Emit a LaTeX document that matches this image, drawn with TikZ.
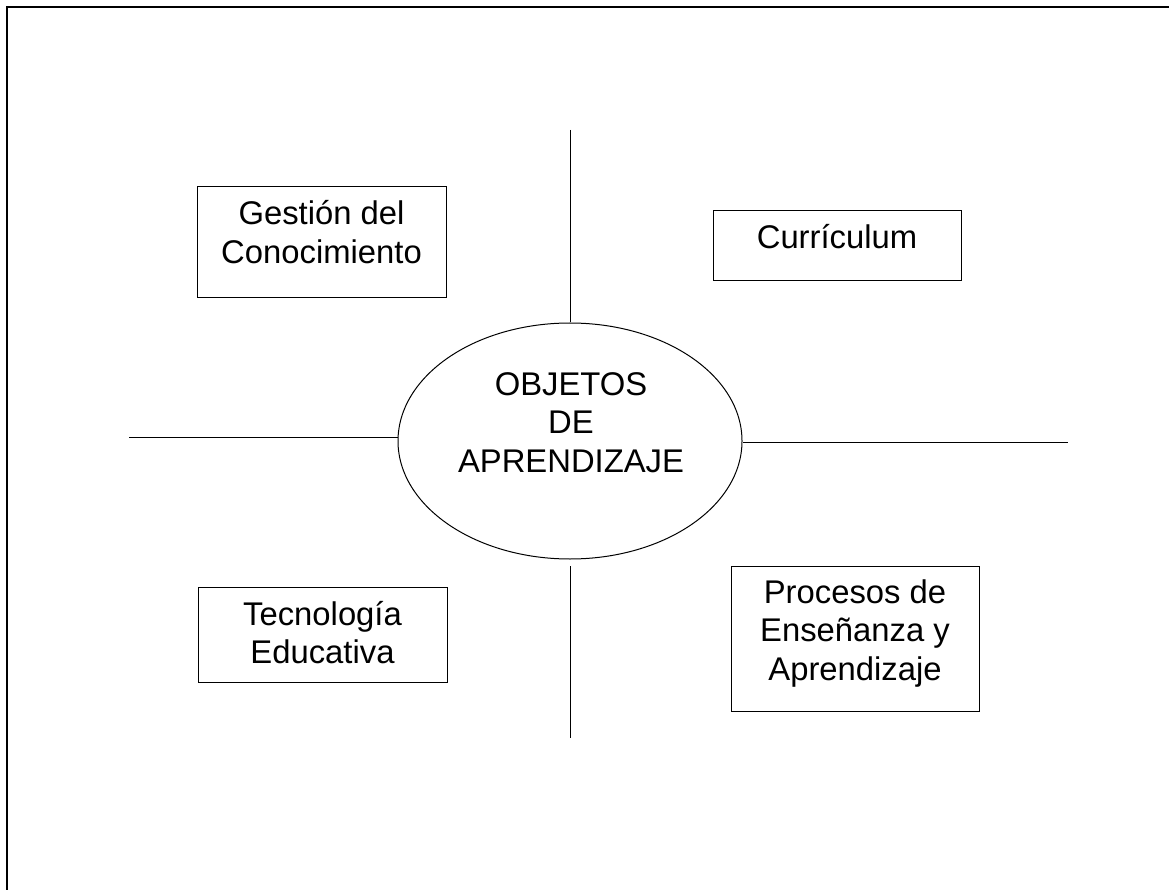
\documentclass[tikz,border=0pt]{standalone}
\usepackage{fontspec}
\setmainfont{Liberation Sans}
\usetikzlibrary{shapes.geometric}
\tikzset{
  boxshape/.style={draw=black, line width=1pt, rectangle, inner sep=0pt},
  ellshape/.style={draw=black, line width=1pt, ellipse, inner sep=0pt},
  txt/.style={anchor=base, inner sep=0pt, font=\fontsize{32.8}{38.5}\selectfont},
  spoke/.style={draw=black, line width=1pt},
  frameline/.style={draw=black, line width=1.7pt}
}
\newcommand{\mlines}[1]{\begin{tabular}[t]{@{}c@{}}#1\end{tabular}}
\begin{document}
\begin{tikzpicture}[x=1pt,y=-1pt]
\useasboundingbox (0,0) rectangle (1169,890);
\draw[frameline] (6.7,895) -- (6.7,6.7) -- (1175,6.7);

% central ellipse
\node[ellshape, minimum width=344pt, minimum height=236pt] (ell) at (570,441) {};
\node[txt] (ellT) at (571,395) {\mlines{OBJETOS\\DE\\APRENDIZAJE}};

% boxes
\node[boxshape, minimum width=249pt, minimum height=111pt] (ges) at (321.5,242.5) {};
\node[txt] (gesT) at (321.5,225) {\mlines{Gestión del\\Conocimiento}};

\node[boxshape, minimum width=248pt, minimum height=70pt] (cur) at (837,246) {};
\node[txt] (curT) at (837,249) {Currículum};

\node[boxshape, minimum width=249pt, minimum height=95pt] (tec) at (322.5,634.5) {};
\node[txt] (tecT) at (322.5,625) {\mlines{Tecnología\\Educativa}};

\node[boxshape, minimum width=248pt, minimum height=145pt] (pro) at (855,638.5) {};
\node[txt] (proT) at (855,603) {\mlines{Procesos de\\Enseñanza y\\Aprendizaje}};

% spokes
\coordinate (tp) at (570,130);
\coordinate (bt1) at (570,566);
\coordinate (bt2) at (570,738);
\coordinate (lf) at (129,437);
\coordinate (rt) at (1068,442);
\draw[spoke] (tp) -- (ell.north);
\draw[spoke] (bt1) -- (bt2);
\draw[spoke] (lf) -- (ell.west |- lf);
\draw[spoke] (ell.east |- rt) -- (rt);
\end{tikzpicture}
\end{document}
